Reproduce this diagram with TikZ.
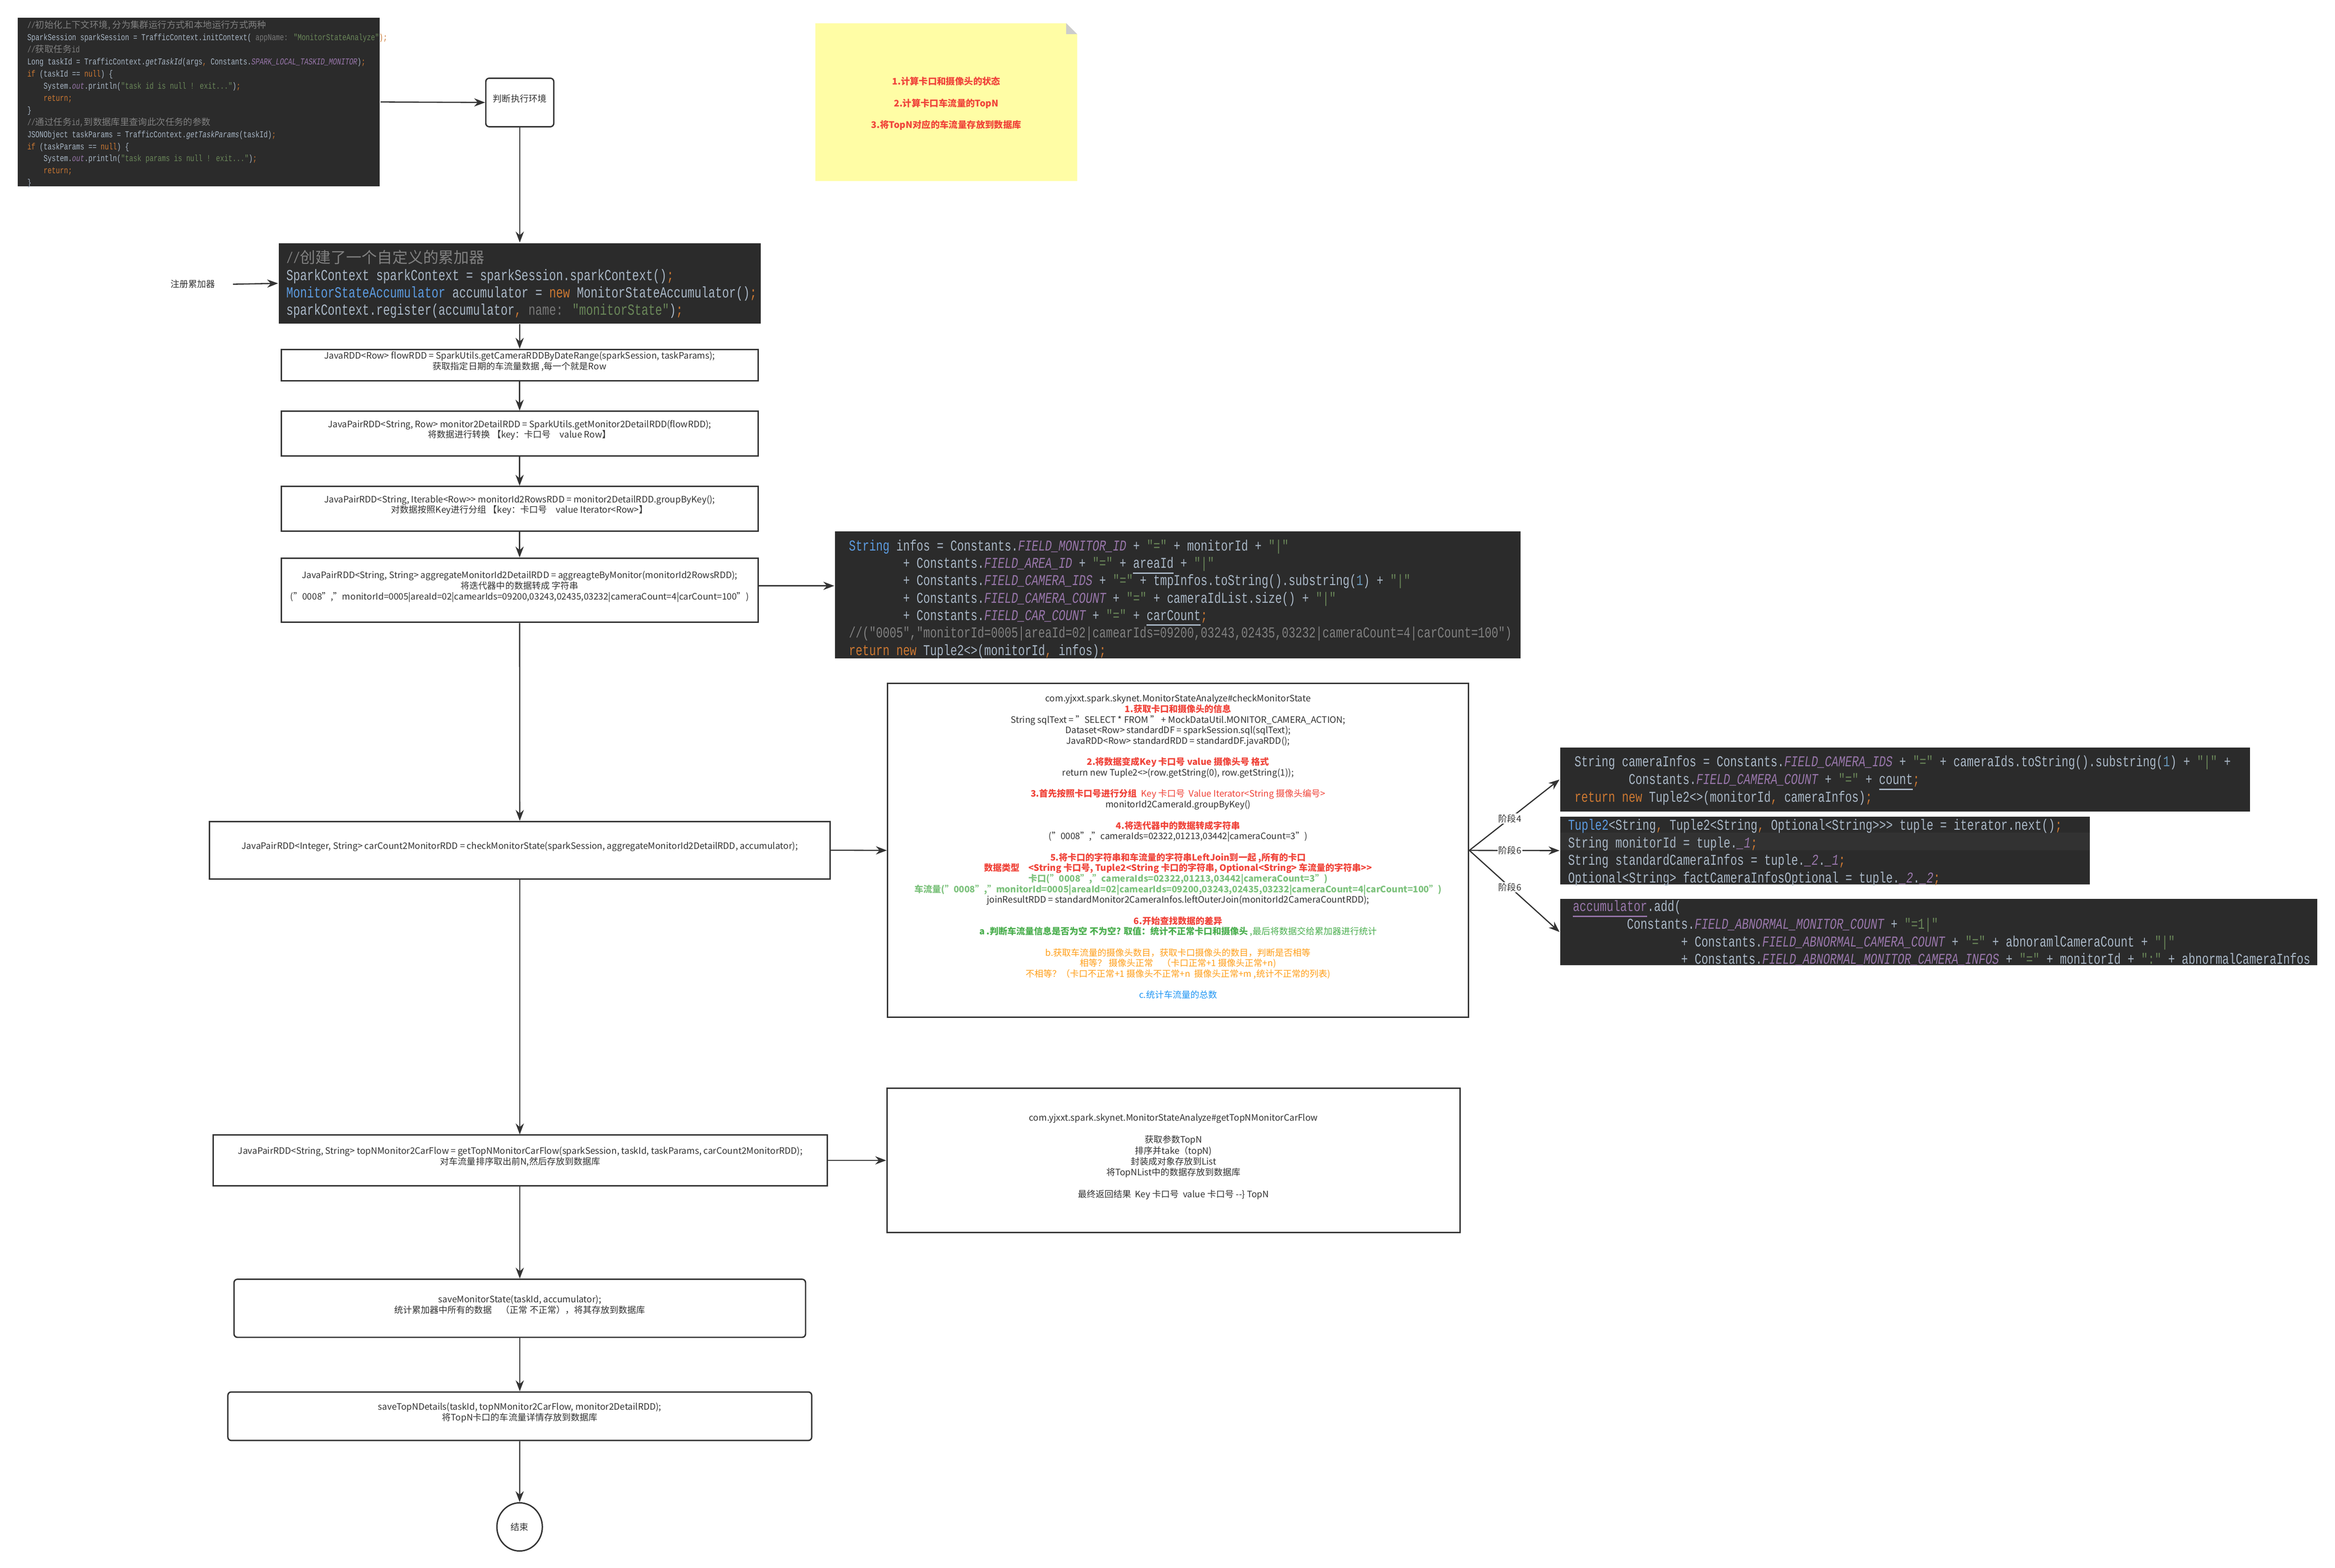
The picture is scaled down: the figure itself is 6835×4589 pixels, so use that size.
\documentclass[tikz,border=0pt]{standalone}
\usepackage{fontspec}
\setmainfont{Noto Sans CJK SC}
\newfontfamily\cjk{Noto Sans CJK SC}
\newfontfamily\mono{Liberation Mono}[FakeStretch=0.75]
\usetikzlibrary{fit,arrows.meta,shapes.geometric}
\definecolor{cbg}{HTML}{2B2B2B}
\definecolor{chl}{HTML}{323232}
\definecolor{cfg}{HTML}{A9B7C6}
\definecolor{ckw}{HTML}{CC7832}
\definecolor{cstr}{HTML}{6A8759}
\definecolor{cpur}{HTML}{9876AA}
\definecolor{ccom}{HTML}{808080}
\definecolor{ctyp}{HTML}{5C9BE0}
\definecolor{cnum}{HTML}{6897BB}
\definecolor{chint}{HTML}{787878}
\definecolor{lnc}{HTML}{333333}
\definecolor{nred}{HTML}{F0443A}
\definecolor{ngrn}{HTML}{7DC27D}
\definecolor{ngrn2}{HTML}{4CAF50}
\definecolor{norg}{HTML}{FF9F1A}
\definecolor{nblu}{HTML}{2196F3}
\definecolor{note}{HTML}{FFFDA5}
\newcommand\cK[1]{\textcolor{ckw}{#1}}
\newcommand\cS[1]{\textcolor{cstr}{#1}}
\newcommand\cP[1]{\textcolor{cpur}{\itshape #1}}
\newcommand\cC[1]{\textcolor{ccom}{#1}}
\newcommand\cT[1]{\textcolor{ctyp}{#1}}
\newcommand\cN[1]{\textcolor{cnum}{#1}}
\newcommand\cH[1]{\textcolor{chint}{#1}}
\newcommand\cU[1]{\smash{\underline{#1}}}
\newcommand\ind[1]{\hphantom{#1}}
\newcommand\rb[1]{\textcolor{nred}{\bfseries #1}}
\tikzset{
  box/.style={draw=lnc,line width=0.4bp,fill=white,inner sep=0pt,align=center,
    font=\fontsize{2.6bp}{3.1bp}\selectfont,text=lnc},
  codebg/.style={fill=cbg,inner sep=0pt},
  codetxt/.style={inner sep=0pt,align=left,text=cfg,anchor=north west},
  arr/.style={draw=lnc,line width=0.35bp,-{Stealth[length=3.2bp,width=2.4bp]}},
  lbl/.style={font=\fontsize{2.6bp}{3.1bp}\selectfont,text=lnc,inner sep=0.3bp}
}
\begin{document}
\begin{tikzpicture}[x=0.1bp,y=-0.1bp]
\useasboundingbox[fill=white] (0,0) rectangle (6835,4589);

% sticky note
\fill[note] (2387,68) -- (3121,68) -- (3153,100) -- (3153,530) -- (2387,530) -- cycle;
\fill[gray!40] (3121,68) -- (3153,100) -- (3121,100) -- cycle;
\node[inner sep=0pt,align=center,text=nred,font=\bfseries\fontsize{2.65bp}{6.35bp}\selectfont] (notetxt) at (2770,303)
 {1.计算卡口和摄像头的状态\\2.计算卡口车流量的TopN\\3.将TopN对应的车流量存放到数据库};

% code block 1
\node[codebg,fit={(52,52)(1112,545)}] (code1) {};
\node[codetxt,font=\mono\fontsize{2.65bp}{3.55bp}\selectfont] at (78,58) {%
\cC{//{\cjk 初始化上下文环境, 分为集群运行方式和本地运行方式两种}}\\
SparkSession sparkSession = TrafficContext.initContext( \cH{appName:} \cS{"MonitorStateAnalyze"}\cK{);}\\
\cC{//{\cjk 获取任务}id}\\
Long taskId = TrafficContext.{\itshape getTaskId}(args\cK{,} Constants.\cP{SPARK\_LOCAL\_TASKID\_MONITOR})\cK{;}\\
\cK{if} (taskId == \cK{null}) \{\\
\ind{0000}System.\cP{out}.println(\cS{"task id is null ! exit..."})\cK{;}\\
\ind{0000}\cK{return;}\\
\}\\
\cC{//{\cjk 通过任务}id,{\cjk 到数据库里查询此次任务的参数}}\\
JSONObject taskParams = TrafficContext.{\itshape getTaskParams}(taskId)\cK{;}\\
\cK{if} (taskParams == \cK{null}) \{\\
\ind{0000}System.\cP{out}.println(\cS{"task params is null ! exit..."})\cK{;}\\
\ind{0000}\cK{return;}\\
\}};

\node[box,rounded corners=1bp,fit={(1422,229)(1621,371)}] (judge) {判断执行环境};

% accumulator block
\node[codebg,fit={(816,712)(2227,947)}] (acc) {};
\node[codetxt,font=\mono\fontsize{4.5bp}{5.05bp}\selectfont] at (836,730) {%
\cC{//{\cjk 创建了一个自定义的累加器}}\\
SparkContext sparkContext = sparkSession.sparkContext()\cK{;}\\
\cT{MonitorStateAccumulator} accumulator = \cK{new} MonitorStateAccumulator()\cK{;}\\
sparkContext.register(accumulator\cK{,} \cH{name:} \cS{"monitorState"})\cK{;}};
\node[lbl] (reg) at (564,832) {注册累加器};

\node[box,fit={(823,1023)(2219,1115)}] (flow) {JavaRDD<Row> flowRDD = SparkUtils.getCameraRDDByDateRange(sparkSession, taskParams);\\获取指定日期的车流量数据 ,每一个就是Row};
\node[box,fit={(823,1204)(2219,1335)}] (m2d) {JavaPairRDD<String, Row> monitor2DetailRDD = SparkUtils.getMonitor2DetailRDD(flowRDD);\\将数据进行转换 【key：卡口号\quad value Row】};
\node[box,fit={(823,1424)(2219,1555)}] (grp) {JavaPairRDD<String, Iterable<Row>{}> monitorId2RowsRDD = monitor2DetailRDD.groupByKey();\\对数据按照Key进行分组 【key：卡口号\quad value Iterator<Row>】};
\node[box,fit={(823,1634)(2219,1822)}] (agg) {JavaPairRDD<String, String> aggregateMonitorId2DetailRDD = aggreagteByMonitor(monitorId2RowsRDD);\\将迭代器中的数据转成 字符串\\("0008","monitorId=0005|areaId=02|camearIds=09200,03243,02435,03232|cameraCount=4|carCount=100")};

% code block 2
\node[codebg,fit={(2444,1556)(4451,1927)}] (code2) {};
\node[codetxt,font=\mono\fontsize{4.4bp}{5.1bp}\selectfont] at (2483,1578) {%
\cT{String} infos = Constants.\cP{FIELD\_MONITOR\_ID} + \cS{"="} + monitorId + \cS{"|"}\\
\ind{00000000}+ Constants.\cP{FIELD\_AREA\_ID} + \cS{"="} + \cU{areaId} + \cS{"|"}\\
\ind{00000000}+ Constants.\cP{FIELD\_CAMERA\_IDS} + \cS{"="} + tmpInfos.toString().substring(\cN{1}) + \cS{"|"}\\
\ind{00000000}+ Constants.\cP{FIELD\_CAMERA\_COUNT} + \cS{"="} + cameraIdList.size() + \cS{"|"}\\
\ind{00000000}+ Constants.\cP{FIELD\_CAR\_COUNT} + \cS{"="} + \cU{carCount}\cK{;}\\
\cC{//("0005","monitorId=0005|areaId=02|camearIds=09200,03243,02435,03232|cameraCount=4|carCount=100")}\\
\cK{return new} Tuple2<>(monitorId\cK{,} infos)\cK{;}};

\node[box,fit={(613,2405)(2430,2573)}] (car) {JavaPairRDD<Integer, String> carCount2MonitorRDD = checkMonitorState(sparkSession, aggregateMonitorId2DetailRDD, accumulator);};

\node[box,fit={(2598,2001)(4299,2978)}] (check) {%
com.yjxxt.spark.skynet.MonitorStateAnalyze\#checkMonitorState\\
\rb{1.获取卡口和摄像头的信息}\\
String sqlText = "SELECT * FROM " + MockDataUtil.MONITOR\_CAMERA\_ACTION;\\
Dataset<Row> standardDF = sparkSession.sql(sqlText);\\
JavaRDD<Row> standardRDD = standardDF.javaRDD();\\[3.1bp]
\rb{2.将数据变成Key 卡口号 value 摄像头号 格式}\\
return new Tuple2<>(row.getString(0), row.getString(1));\\[3.1bp]
\rb{3.首先按照卡口号进行分组}\textcolor{nred}{\ \ Key 卡口号\ \ Value Iterator<String 摄像头编号>}\\
monitorId2CameraId.groupByKey()\\[3.1bp]
\rb{4.将迭代器中的数据转成字符串}\\
("0008","cameraIds=02322,01213,03442|cameraCount=3")\\[3.1bp]
\rb{5.将卡口的字符串和车流量的字符串LeftJoin到一起 ,所有的卡口}\\
\rb{数据类型\quad <String 卡口号, Tuple2<String 卡口的字符串, Optional<String> 车流量的字符串>{}>}\\
\textcolor{ngrn}{\bfseries 卡口("0008","cameraIds=02322,01213,03442|cameraCount=3")}\\
\textcolor{ngrn}{\bfseries 车流量("0008","monitorId=0005|areaId=02|camearIds=09200,03243,02435,03232|cameraCount=4|carCount=100")}\\
joinResultRDD = standardMonitor2CameraInfos.leftOuterJoin(monitorId2CameraCountRDD);\\[3.1bp]
\rb{6.开始查找数据的差异}\\
\textcolor{ngrn2}{\bfseries a .判断车流量信息是否为空 不为空? 取值：统计不正常卡口和摄像头}\textcolor{ngrn2}{\ ,最后将数据交给累加器进行统计}\\[3.1bp]
\textcolor{norg}{b.获取车流量的摄像头数目，获取卡口摄像头的数目，判断是否相等}\\
\textcolor{norg}{相等？ 摄像头正常\quad （卡口正常+1 摄像头正常+n)}\\
\textcolor{norg}{不相等？（卡口不正常+1 摄像头不正常+n\ \ 摄像头正常+m ,统计不正常的列表)}\\[3.1bp]
\textcolor{nblu}{c.统计车流量的总数}};

% stage blocks
\node[codebg,fit={(4567,2188)(6586,2376)}] (sA) {};
\node[codetxt,font=\mono\fontsize{4.4bp}{5.2bp}\selectfont] at (4607,2210) {%
String cameraInfos = Constants.\cP{FIELD\_CAMERA\_IDS} + \cS{"="} + cameraIds.toString().substring(\cN{1}) + \cS{"|"} +\\
\ind{00000000}Constants.\cP{FIELD\_CAMERA\_COUNT} + \cS{"="} + \cU{count}\cK{;}\\
\cK{return new} Tuple2<>(monitorId\cK{,} cameraInfos)\cK{;}};
\node[codebg,fit={(4567,2391)(6117,2589)}] (sB) {};
\fill[chl] (4567,2437) rectangle (6117,2489);
\node[codetxt,font=\mono\fontsize{4.4bp}{5.15bp}\selectfont] at (4588,2396) {%
\cT{Tuple2}<String\cK{,} Tuple2<String\cK{,} Optional<String>{}>{}>{} tuple = iterator.next()\cK{;}\\
String monitorId = tuple.\cP{\_1}\cK{;}\\
String standardCameraInfos = tuple.\cP{\_2}.\cP{\_1}\cK{;}\\
Optional<String> factCameraInfosOptional = tuple.\cP{\_2}.\cP{\_2}\cK{;}};
\node[codebg,fit={(4567,2632)(6783,2825)}] (sC) {};
\node[codetxt,font=\mono\fontsize{4.4bp}{5.15bp}\selectfont] at (4602,2634) {%
\textcolor{cpur}{\cU{accumulator}}.add(\\
\ind{00000000}Constants.\cP{FIELD\_ABNORMAL\_MONITOR\_COUNT} + \cS{"=1|"}\\
\ind{0000000000000000}+ Constants.\cP{FIELD\_ABNORMAL\_CAMERA\_COUNT} + \cS{"="} + abnoramlCameraCount + \cS{"|"}\\
\ind{0000000000000000}+ Constants.\cP{FIELD\_ABNORMAL\_MONITOR\_CAMERA\_INFOS} + \cS{"="} + monitorId + \cS{":"} + abnormalCameraInfos};

\node[box,fit={(624,3323)(2422,3471)}] (topn) {JavaPairRDD<String, String> topNMonitor2CarFlow = getTopNMonitorCarFlow(sparkSession, taskId, taskParams, carCount2MonitorRDD);\\对车流量排序取出前N,然后存放到数据库};
\node[box,fit={(2596,3186)(4274,3608)},font=\fontsize{2.6bp}{3.2bp}\selectfont] (topr) {%
com.yjxxt.spark.skynet.MonitorStateAnalyze\#getTopNMonitorCarFlow\\[3.2bp]
获取参数TopN\\排序并take（topN)\\封装成对象存放到List\\将TopNList中的数据存放到数据库\\[3.2bp]
最终返回结果\ \ Key 卡口号\ \ value 卡口号 -{}-\} TopN};

\node[box,rounded corners=1bp,fit={(685,3745)(2358,3915)}] (savems) {saveMonitorState(taskId, accumulator);\\统计累加器中所有的数据\quad （正常 不正常），将其存放到数据库};
\node[box,rounded corners=1bp,fit={(667,4075)(2376,4217)}] (savetn) {saveTopNDetails(taskId, topNMonitor2CarFlow, monitor2DetailRDD);\\将TopN卡口的车流量详情存放到数据库};
\node[box,ellipse,minimum width=13.3bp,minimum height=14.1bp] (endn) at (1521,4470) {结束};

% connectors
\coordinate (regs) at (682,832);
\draw[arr] (code1.east) -- (judge.west);
\draw[arr] (judge) -- (acc);
\draw[arr] (regs) -- (acc.west);
\draw[arr] (acc) -- (flow);
\draw[arr] (flow) -- (m2d);
\draw[arr] (m2d) -- (grp);
\draw[arr] (grp) -- (agg);
\draw[arr] (agg) -- (car);
\draw[arr] (car.south) -- (car.south |- topn.north);
\draw[arr] (car.south |- topn.south) -- (savems.north);
\draw[arr] (savems) -- (savetn);
\draw[arr] (savetn) -- (endn);
\draw[arr] ([yshift=1.3bp]agg.east) -- ([yshift=1.3bp]agg.east -| code2.west);
\draw[arr] (car.east) -- (check.west);
\draw[arr] (topn.east) -- (topn.east -| topr.west);
\coordinate (fork) at (check.east);
\draw[arr] (fork) -- node[lbl,fill=white,pos=0.45] {阶段4} (sA.west);
\draw[arr] (fork) -- node[lbl,fill=white,pos=0.45] {阶段6} (sB.west);
\draw[arr] (fork) -- node[lbl,fill=white,pos=0.45] {阶段6} (sC.west);
\end{tikzpicture}
\end{document}
